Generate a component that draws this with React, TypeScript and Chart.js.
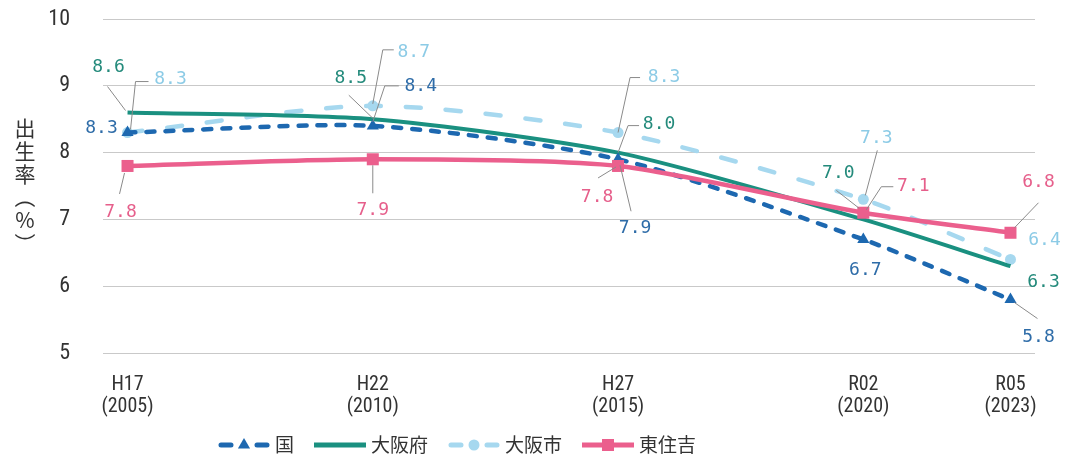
import React, { useEffect, useRef } from "react";
import { Chart, registerables } from "chart.js";

Chart.register(...registerables);

// ---- data ----
const years = [2005, 2010, 2015, 2020, 2023];
const eraLabels = ["H17", "H22", "H27", "R02", "R05"];
const seriesNames = ["国", "大阪府", "大阪市", "東住吉"];
const kuni = [8.3, 8.4, 7.9, 6.7, 5.8];
const osakaFu = [8.6, 8.5, 8.0, 7.0, 6.3];
const osakaShi = [8.3, 8.7, 8.3, 7.3, 6.4];
const higashiSumiyoshi = [7.8, 7.9, 7.8, 7.1, 6.8];
const yTitleChars = ["出", "生", "率", "（", "%", "）"];

// ---- styles ----
const lineColors = ["#1d68b0", "#1a9080", "#a6d8ef", "#eb5f8d"];
const labelColors = ["#2e6ca8", "#238a7b", "#8ccbe6", "#e65f8b"];
const dashes: number[][] = [[8, 11], [], [15, 25], []];
const pointStyles = ["triangle", "circle", "circle", "rect"];
const pointRadii = [7, 0, 5.5, 8.5];
const drawOrder = [1, 2, 3, 0];

type Placement = { dx: number; dy: number; leader?: number[][] };
// label placement relative to each point (pixels)
const placements: Placement[][] = [
  [
    { dx: -26, dy: -4 },
    { dx: 48, dy: -40, leader: [[0, -4], [12, -40], [26, -40]] },
    { dx: 17, dy: 69, leader: [[2, 6], [13, 52]] },
    { dx: 2, dy: 31 },
    { dx: 28, dy: 38, leader: [[4, 3], [27, 19]] },
  ],
  [
    { dx: -19, dy: -45, leader: [[-2, -2], [-20, -26]] },
    { dx: -22, dy: -41, leader: [[0, -1], [-24, -24]] },
    { dx: 41, dy: -28, leader: [[0, 0], [10, -27], [21, -27]] },
    { dx: -25, dy: -46, leader: [[-4, -11], [-27, -29]] },
    { dx: 33, dy: 16 },
  ],
  [
    { dx: 43, dy: -53, leader: [[3, -3], [8, -51], [21, -51]] },
    { dx: 41, dy: -54, leader: [[0, -2], [10, -56], [21, -56]] },
    { dx: 46, dy: -55, leader: [[0, 0], [12, -55], [22, -55]] },
    { dx: 13, dy: -61, leader: [[2, -4], [14, -49]] },
    { dx: 34, dy: -19 },
  ],
  [
    { dx: -7, dy: 46, leader: [[-3, 7], [-8, 28]] },
    { dx: 0, dy: 51, leader: [[0, 6], [0, 34]] },
    { dx: -21, dy: 31, leader: [[-2, 1], [-20, 12]] },
    { dx: 50, dy: -26, leader: [[3, -3], [18, -26], [30, -26]] },
    { dx: 28, dy: -50, leader: [[4, -5], [28, -30]] },
  ],
];

const seriesValues = [kuni, osakaFu, osakaShi, higashiSumiyoshi];

const TICK_FONT = "'Liberation Sans Narrow', 'Roboto Condensed', 'DejaVu Sans Condensed', Roboto, sans-serif";
const LABEL_FONT = "'DejaVu Sans Mono', 'Liberation Mono', monospace";
const CJK_FONT = "'Noto Sans CJK JP', 'Noto Sans', sans-serif";

const dataLabelPlugin = {
  id: "dataLabelsLeaders",
  afterDatasetsDraw(chart: any) {
    const ctx = chart.ctx;
    ctx.save();
    seriesValues.forEach((vals, si) => {
      const meta = chart.getDatasetMeta(si);
      vals.forEach((v, i) => {
        const el = meta.data[i];
        if (!el) return;
        const p = placements[si][i];
        if (p.leader) {
          ctx.beginPath();
          ctx.strokeStyle = "#8a8a8a";
          ctx.lineWidth = 1;
          ctx.setLineDash([]);
          p.leader.forEach((pt, k) => {
            const x = el.x + pt[0];
            const y = el.y + pt[1];
            if (k === 0) ctx.moveTo(x, y);
            else ctx.lineTo(x, y);
          });
          ctx.stroke();
        }
        ctx.font = `18px ${LABEL_FONT}`;
        ctx.fillStyle = labelColors[si];
        ctx.textAlign = "center";
        ctx.textBaseline = "middle";
        ctx.fillText(v.toFixed(1), el.x + p.dx, el.y + p.dy);
      });
    });
    ctx.restore();
  },
};

const yTitlePlugin = {
  id: "verticalYTitle",
  afterDraw(chart: any) {
    const ctx = chart.ctx;
    const { top, bottom } = chart.chartArea;
    const cy = (top + bottom) / 2;
    const step = 23;
    const startY = cy - ((yTitleChars.length - 1) / 2) * step;
    ctx.save();
    ctx.font = `21px ${CJK_FONT}`;
    ctx.fillStyle = "#333";
    ctx.textAlign = "center";
    ctx.textBaseline = "middle";
    yTitleChars.forEach((c, i) => {
      const y = startY + i * step;
      if (c === "（" || c === "）") {
        ctx.save();
        ctx.translate(25, y);
        ctx.rotate(Math.PI / 2);
        ctx.fillText(c, 0, 0);
        ctx.restore();
      } else {
        ctx.fillText(c, 25, y);
      }
    });
    ctx.restore();
  },
};

const legendPlugin = {
  id: "customLegend",
  afterDraw(chart: any) {
    const ctx = chart.ctx;
    const y = 445;
    let x = 218;
    const symW = 52;
    ctx.save();
    ctx.font = `19px ${CJK_FONT}`;
    ctx.textBaseline = "middle";
    ctx.textAlign = "left";
    seriesNames.forEach((name, si) => {
      const color = lineColors[si];
      ctx.strokeStyle = color;
      ctx.fillStyle = color;
      ctx.lineWidth = 5;
      ctx.setLineDash([]);
      if (dashes[si].length) {
        ctx.lineCap = "round";
        ctx.beginPath();
        ctx.moveTo(x + 3, y);
        ctx.lineTo(x + 13, y);
        ctx.moveTo(x + symW - 13, y);
        ctx.lineTo(x + symW - 3, y);
        ctx.stroke();
      } else {
        ctx.lineCap = "butt";
        ctx.beginPath();
        ctx.moveTo(x, y);
        ctx.lineTo(x + symW, y);
        ctx.stroke();
      }
      const cx = x + symW / 2;
      const st = pointStyles[si];
      const r = pointRadii[si];
      if (r > 0) {
        ctx.beginPath();
        if (st === "triangle") {
          ctx.moveTo(cx, y - r);
          ctx.lineTo(cx + r * 0.87, y + r * 0.5);
          ctx.lineTo(cx - r * 0.87, y + r * 0.5);
          ctx.closePath();
        } else if (st === "circle") {
          ctx.arc(cx, y, r, 0, Math.PI * 2);
        } else {
          const s = r * Math.SQRT1_2;
          ctx.rect(cx - s, y - s, s * 2, s * 2);
        }
        ctx.fill();
      }
      ctx.fillStyle = "#333";
      const tx = x + symW + 5;
      ctx.fillText(name, tx, y);
      x = tx + ctx.measureText(name).width + 20;
    });
    ctx.restore();
  },
};

export default function App() {
  const canvasRef = useRef<HTMLCanvasElement | null>(null);

  useEffect(() => {
    if (!canvasRef.current) return;
    const datasets = seriesNames.map((name, si) => ({
      label: name,
      data: years.map((yr, i) => ({ x: yr, y: seriesValues[si][i] })),
      borderColor: lineColors[si],
      backgroundColor: lineColors[si],
      borderWidth: si === 1 ? 4 : 4.5,
      borderDash: dashes[si],
      borderCapStyle: dashes[si].length ? "round" : "butt",
      pointStyle: pointStyles[si],
      pointRadius: pointRadii[si],
      pointBorderWidth: 0,
      pointBackgroundColor: lineColors[si],
      tension: 0.25,
      order: drawOrder[si],
      clip: false,
    }));

    const chart = new Chart(canvasRef.current, {
      type: "line",
      data: { datasets } as any,
      options: {
        animation: false,
        responsive: true,
        maintainAspectRatio: false,
        layout: { padding: { top: 19, right: 34, left: 0, bottom: 0 } },
        plugins: {
          legend: { display: false },
          tooltip: { enabled: false },
        },
        scales: {
          x: {
            type: "linear",
            min: 2004.5,
            max: 2023.5,
            grid: { display: false },
            border: { display: false },
            afterBuildTicks: (scale: any) => {
              scale.ticks = years.map((v) => ({ value: v }));
            },
            afterFit: (scale: any) => {
              scale.height = 111;
              scale.paddingLeft = 0;
              scale.paddingRight = 0;
            },
            ticks: {
              padding: 13,
              color: "#333",
              maxRotation: 0,
              autoSkip: false,
              font: { family: TICK_FONT, size: 20, lineHeight: 1.1 },
              callback: (value: any) => {
                const i = years.indexOf(Number(value));
                return i >= 0 ? [eraLabels[i], `(${value})`] : "";
              },
            },
          },
          y: {
            min: 5,
            max: 10,
            grid: { color: "#c9c9c9", lineWidth: 1, drawTicks: false },
            border: { display: false },
            afterFit: (scale: any) => {
              scale.width = 103;
              scale.paddingTop = 0;
              scale.paddingBottom = 0;
            },
            ticks: {
              stepSize: 1,
              padding: 33,
              color: "#333",
              font: { family: TICK_FONT, size: 22 },
            },
          },
        },
      },
      plugins: [dataLabelPlugin, yTitlePlugin, legendPlugin],
    } as any);

    return () => chart.destroy();
  }, []);

  return (
    <div style={{ position: "absolute", left: 0, top: 0, width: 1069, height: 464, background: "#fff" }}>
      <canvas ref={canvasRef} />
    </div>
  );
}
